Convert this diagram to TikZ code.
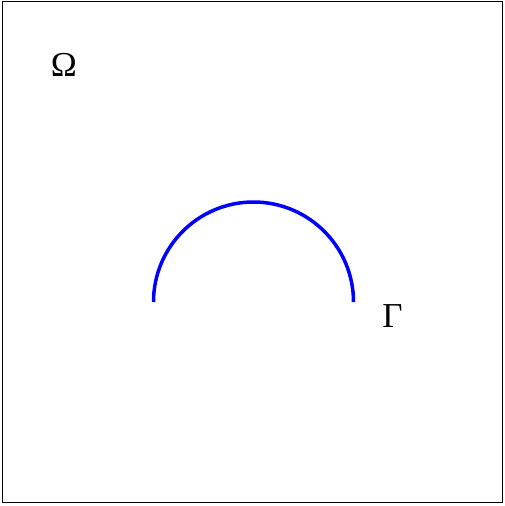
\documentclass[tikz,border=0pt]{standalone}
\usepackage{fontspec}
\setmainfont{Liberation Serif}
\begin{document}
\begin{tikzpicture}[x=1pt,y=-1pt,
  lbl/.style={inner sep=0pt,font=\fontsize{35}{40}\selectfont},
  curve/.style={draw=blue,line width=3.5pt}]
\useasboundingbox (0,0) rectangle (504,506);
\draw[line width=1pt] (2.5,1.5) rectangle (502.5,502.5);
\coordinate (A) at (153.5,302);
\draw[curve] (A) arc[start angle=180,end angle=360,radius=100];
\node[lbl] (omega) at (64,65) {Ω};
\node[lbl] (gamma) at (392.5,316) {Γ};
\end{tikzpicture}
\end{document}
